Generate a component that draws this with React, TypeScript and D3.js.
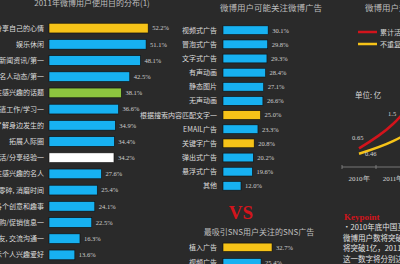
import * as d3 from "d3";

// left panel: usage purposes
const leftTitle = "2011年微博用户使用目的分布(1)";
const leftCats = [
  "分享自己的心情", "娱乐休闲", "获取新闻资讯/第一", "关注明星名人动态/第一", "关注感兴趣的话题",
  "消遣工作/学习一", "了解身边发生的", "拓展人际圈", "记录生活/分享经验一", "关注感兴趣的名人",
  "利用零碎, 消磨时间", "关注各个创意和趣事", "获取团购/促销信息一", "维系朋友, 交流沟通一", "展示个人兴趣爱好",
];
const leftVals = [52.2, 51.1, 48.1, 42.5, 38.1, 36.6, 34.9, 34.4, 34.2, 27.6, 25.4, 24.1, 22.5, 16.3, 13.6];

// middle panel: ad formats
const midTitle = "微博用户可能关注微博广告";
const midCats = [
  "视频式广告", "冒泡式广告", "文字式广告", "有声动画", "静态图片", "无声动画",
  "根据搜索内容匹配文字一", "EMAIL广告", "关键字广告", "弹出式广告", "悬浮式广告", "其他",
];
const midVals = [30.1, 29.8, 29.3, 28.4, 27.1, 26.6, 25.0, 23.3, 20.8, 20.2, 19.6, 12.0];

// SNS ads
const snsTitle = "最吸引SNS用户关注的SNS广告";
const snsCats = ["植入广告", "视频广告"];
const snsVals = [32.7, 25.4];

// right panel: user scale
const rightTitle = "微博用户规模";
const years = ["2010年", "2011年", "2012年"];
const seriesNames = ["累计活跃用户", "不重复用户"];
const activeUsers = [0.65, 1.5, 2.9];
const uniqueUsers = [0.46, 0.9, 1.6];
const keypointLines = ["•2010年底中国互联网", "微博用户数将突破", "将突破1亿，2011年", "这一数字将分别达到"];

const BG = "#2a2a2a";
const BLUE = "#17b1f1";
const YELLOW = "#f6c318";
const GREEN = "#8dc63f";
const RED = "#d2141c";
const CJK = "'Noto Sans CJK SC', sans-serif";
const SERIF = "'Liberation Serif', serif";

const leftHighlight: Record<number, string> = { 0: YELLOW, 4: GREEN, 8: "#ffffff" };
const midHighlight: Record<number, string> = { 6: YELLOW, 8: YELLOW };
const snsHighlight: Record<number, string> = { 0: YELLOW };

export default function App() {
  const xLeft = d3.scaleLinear().domain([0, 100]).range([49, 239]);
  const yLeft = d3.scaleBand<string>().domain(leftCats).range([20, 263]).paddingInner(0.4).paddingOuter(0.2);

  const xMid = d3.scaleLinear().domain([0, 100]).range([223, 373]);
  const yMid = d3.scaleBand<string>().domain(midCats).range([23, 193]).paddingInner(0.38).paddingOuter(0.2);
  const ySns = d3.scaleBand<string>().domain(snsCats).range([240, 270]).paddingInner(0.45).paddingOuter(0.2);

  const xYear = d3.scaleBand<string>().domain(years).range([342, 444]);
  const yVal = d3.scaleLinear().domain([0, 3]).range([167, 81]);
  const cx = (i: number) => (xYear(years[i]) ?? 0) + xYear.bandwidth() / 2;
  const line = d3.line<number>()
    .x((_, i) => cx(i))
    .y(d => yVal(d))
    .curve(d3.curveMonotoneX);

  return (
    <svg width={400} height={264} style={{ position: "fixed", left: 0, top: 0 }}>
      <rect width={400} height={264} fill={BG} />

      {/* left panel */}
      <text x={92} y={6} fontSize={8} fill="#bdbdbd" textAnchor="middle" fontFamily={CJK}>{leftTitle}</text>
      {leftCats.map((c, i) => {
        const y = yLeft(c) ?? 0;
        const h = yLeft.bandwidth();
        return (
          <g key={c}>
            <text x={44} y={y + h / 2 + 2.5} fontSize={7} fill="#dcdcdc" textAnchor="end" fontFamily={CJK}>{c}</text>
            <rect x={xLeft(0)} y={y} width={xLeft(leftVals[i]) - xLeft(0)} height={h}
              fill={leftHighlight[i] ?? BLUE} stroke="#0d0d0d" strokeWidth={0.6} />
            <text x={xLeft(leftVals[i]) + 4} y={y + h / 2 + 2.3} fontSize={6.5} fill="#cfcfcf" fontFamily={SERIF}>
              {leftVals[i].toFixed(1)}%
            </text>
          </g>
        );
      })}

      {/* middle panel */}
      <text x={271} y={11} fontSize={8.5} fill="#bdbdbd" textAnchor="middle" fontFamily={CJK}>{midTitle}</text>
      {midCats.map((c, i) => {
        const y = yMid(c) ?? 0;
        const h = yMid.bandwidth();
        return (
          <g key={c}>
            <text x={217} y={y + h / 2 + 2.5} fontSize={7} fill="#dcdcdc" textAnchor="end" fontFamily={CJK}>{c}</text>
            <rect x={xMid(0)} y={y} width={xMid(midVals[i]) - xMid(0)} height={h}
              fill={midHighlight[i] ?? BLUE} stroke="#0d0d0d" strokeWidth={0.6} />
            <text x={xMid(midVals[i]) + 4} y={y + h / 2 + 2.3} fontSize={6.5} fill="#cfcfcf" fontFamily={SERIF}>
              {midVals[i].toFixed(1)}%
            </text>
          </g>
        );
      })}

      <text x={241} y={219} fontSize={19} fontWeight="bold" fill={RED} textAnchor="middle" fontFamily={SERIF}>VS</text>
      <text x={259} y={235} fontSize={8} fill="#bdbdbd" textAnchor="middle" fontFamily={CJK}>{snsTitle}</text>
      {snsCats.map((c, i) => {
        const y = ySns(c) ?? 0;
        const h = ySns.bandwidth();
        return (
          <g key={c}>
            <text x={217} y={y + h / 2 + 2.5} fontSize={7} fill="#dcdcdc" textAnchor="end" fontFamily={CJK}>{c}</text>
            <rect x={xMid(0)} y={y} width={xMid(snsVals[i]) - xMid(0)} height={h}
              fill={snsHighlight[i] ?? BLUE} stroke="#0d0d0d" strokeWidth={0.6} />
            <text x={xMid(snsVals[i]) + 4} y={y + h / 2 + 2.3} fontSize={6.5} fill="#cfcfcf" fontFamily={SERIF}>
              {snsVals[i].toFixed(1)}%
            </text>
          </g>
        );
      })}

      {/* right panel */}
      <text x={365} y={11} fontSize={8.5} fill="#bdbdbd" fontFamily={CJK}>{rightTitle}</text>
      {seriesNames.map((n, i) => (
        <g key={n}>
          <line x1={358} x2={377} y1={32 + i * 12} y2={32 + i * 12} stroke={i === 0 ? RED : YELLOW} strokeWidth={2.5} />
          <text x={380} y={35 + i * 12} fontSize={7} fill="#d6d6d6" fontFamily={CJK}>{n}</text>
        </g>
      ))}
      <text x={355} y={98} fontSize={7.5} fill="#d6d6d6" fontFamily={CJK}>单位: 亿</text>

      <line x1={342} x2={400} y1={167} y2={167} stroke="#8a8a8a" strokeWidth={0.8} />
      {years.map(yr => (
        <g key={yr}>
          <line x1={xYear(yr) ?? 0} x2={xYear(yr) ?? 0} y1={165} y2={169} stroke="#8a8a8a" strokeWidth={0.8} />
          <text x={(xYear(yr) ?? 0) + xYear.bandwidth() / 2} y={181} fontSize={7} fill="#d6d6d6"
            textAnchor="middle" fontFamily={SERIF}>{yr}</text>
        </g>
      ))}
      <path d={line(uniqueUsers) ?? ""} fill="none" stroke={YELLOW} strokeWidth={2.5} />
      <path d={line(activeUsers) ?? ""} fill="none" stroke={RED} strokeWidth={2.5} />
      <text x={cx(0) - 7} y={yVal(activeUsers[0]) - 8} fontSize={6.5} fill="#d6d6d6" fontFamily={SERIF}>{activeUsers[0]}</text>
      <text x={cx(0) + 6} y={yVal(uniqueUsers[0]) + 2} fontSize={6.5} fill="#d6d6d6" fontFamily={SERIF}>{uniqueUsers[0]}</text>
      <text x={cx(1) - 5} y={yVal(activeUsers[1]) - 8} fontSize={6.5} fill="#d6d6d6" fontFamily={SERIF}>{activeUsers[1]}</text>

      <text x={344} y={220} fontSize={9} fontWeight="bold" fill={RED} fontFamily={SERIF}>Keypoint</text>
      {keypointLines.map((t, i) => (
        <text key={t} x={343} y={230 + i * 10.5} fontSize={7.5} fill="#e0e0e0" fontFamily={CJK}>{t}</text>
      ))}
    </svg>
  );
}
